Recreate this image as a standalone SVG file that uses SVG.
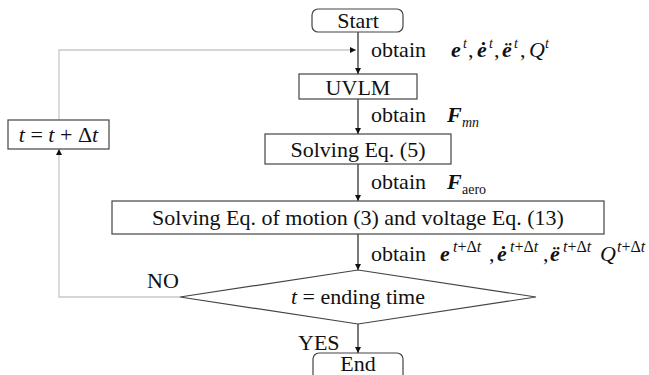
<svg xmlns="http://www.w3.org/2000/svg" width="649" height="375" viewBox="0 0 649 375">
<style>
  .box { fill: #fff; stroke: #444; stroke-width: 1.2; }
  .t { font-family: "Liberation Serif", "Times New Roman", serif; font-size: 22px; fill: #111; }
  .c { text-anchor: middle; }
  .bi { font-weight: bold; font-style: italic; }
  .i { font-style: italic; }
  .sup { font-size: 14px; }
  .sup2 { font-size: 16px; }
  .main { stroke: #222; stroke-width: 1.2; fill: none; }
  .loop { stroke: #c8c8c8; stroke-width: 1.3; fill: none; }
</style>
<defs>
  <marker id="ah" markerUnits="userSpaceOnUse" markerWidth="6" markerHeight="6" refX="6" refY="3" orient="auto">
    <path d="M0,0 L6,3 L0,6 z" fill="#111"/>
  </marker>
</defs>
<rect width="649" height="375" fill="#fff"/>

<g id="connectors">
  <line class="main" x1="358" y1="32" x2="358" y2="74" marker-end="url(#ah)"/>
  <line class="main" x1="358" y1="99" x2="358" y2="134" marker-end="url(#ah)"/>
  <line class="main" x1="358" y1="164" x2="358" y2="201" marker-end="url(#ah)"/>
  <line class="main" x1="358" y1="234" x2="358" y2="270" marker-end="url(#ah)"/>
  <line class="main" x1="358" y1="324" x2="358" y2="353" marker-end="url(#ah)"/>
  <polyline class="loop" points="180,297 59,297 59,149" marker-end="url(#ah)"/>
  <polyline class="loop" points="59,120 59,50 356,50" marker-end="url(#ah)"/>
  <text class="t" x="147" y="288">NO</text>
  <text class="t" x="298" y="350">YES</text>
</g>

<g id="start">
  <rect class="box" x="312" y="9" width="91" height="23" rx="6"/>
  <text class="t c" x="358" y="28">Start</text>
</g>

<g id="label1">
  <text class="t" x="371" y="57">obtain</text>
  <text class="t bi" x="451" y="57">e</text>
  <text class="t i sup" x="463" y="48">t</text>
  <text class="t" x="468" y="57">,</text>
  <text class="t bi" x="477" y="57">ė</text>
  <text class="t i sup" x="489" y="48">t</text>
  <text class="t" x="494" y="57">,</text>
  <text class="t bi" x="502" y="57">ë</text>
  <text class="t i sup" x="514" y="48">t</text>
  <text class="t" x="520" y="57">,</text>
  <text class="t i" x="529" y="57">Q</text>
  <text class="t i sup" x="545" y="48">t</text>
</g>

<g id="uvlm">
  <rect class="box" x="299" y="74" width="118" height="25"/>
  <text class="t c" x="358" y="95">UVLM</text>
</g>

<g id="label2">
  <text class="t" x="371" y="122">obtain</text>
  <text class="t bi" x="447" y="122">F</text>
  <text class="t i sup" x="462" y="127">mn</text>
</g>

<g id="solve5">
  <rect class="box" x="265" y="134" width="186" height="30"/>
  <text class="t c" x="358" y="157">Solving Eq. (5)</text>
</g>

<g id="label3">
  <text class="t" x="371" y="189">obtain</text>
  <text class="t bi" x="447" y="189">F</text>
  <text class="t sup" x="462" y="194">aero</text>
</g>

<g id="solve3">
  <rect class="box" x="112" y="201" width="492" height="33"/>
  <text class="t c" x="358" y="225">Solving Eq. of motion (3) and voltage Eq. (13)</text>
</g>

<g id="label4">
  <text class="t" x="371" y="261">obtain</text>
  <text class="t bi" x="440" y="261">e</text>
  <text class="t sup2" x="453" y="252"><tspan class="i">t</tspan>+Δ<tspan class="i">t</tspan></text>
  <text class="t" x="489" y="261">,</text>
  <text class="t bi" x="497" y="261">ė</text>
  <text class="t sup2" x="510" y="252"><tspan class="i">t</tspan>+Δ<tspan class="i">t</tspan></text>
  <text class="t" x="543" y="261">,</text>
  <text class="t bi" x="550" y="261">ë</text>
  <text class="t sup2" x="563" y="252"><tspan class="i">t</tspan>+Δ<tspan class="i">t</tspan></text>
  <text class="t i" x="600" y="261">Q</text>
  <text class="t sup2" x="617" y="252"><tspan class="i">t</tspan>+Δ<tspan class="i">t</tspan></text>
</g>

<g id="update">
  <rect class="box" x="8" y="120" width="101" height="29"/>
  <text class="t c" x="58.5" y="142"><tspan class="i">t</tspan> = <tspan class="i">t</tspan> + Δ<tspan class="i">t</tspan></text>
</g>

<g id="decision">
  <polygon class="box" points="358,270 536,297 358,324 180,297"/>
  <text class="t c" x="358" y="304"><tspan class="i">t</tspan> = ending time</text>
</g>

<g id="end">
  <rect class="box" x="313" y="353" width="90" height="28" rx="6"/>
  <text class="t c" x="358" y="371">End</text>
</g>
</svg>
